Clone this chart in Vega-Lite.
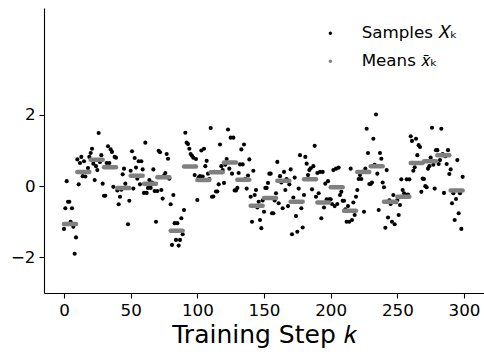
{
  "$schema": "https://vega.github.io/schema/vega-lite/v6.json",
  "autosize": {"type": "none"},
  "width": 440,
  "height": 285,
  "padding": {"left": 44, "top": 8, "right": 0, "bottom": 63},
  "background": "white",
  "config": {
    "view": {"stroke": null},
    "font": "DejaVu Sans",
    "axis": {
      "grid": false,
      "domainColor": "black",
      "domainWidth": 1.1,
      "tickColor": "black",
      "tickWidth": 1.1,
      "tickSize": 5,
      "labelColor": "black",
      "labelFont": "DejaVu Sans",
      "labelFontSize": 16.7,
      "labelPadding": 4,
      "titleFont": "DejaVu Sans",
      "titleColor": "black",
      "titleFontWeight": "normal"
    }
  },
  "datasets": {
    "samples": [
      {"k":0,"x":-1.2},{"k":1,"x":-0.62},{"k":2,"x":0.14},{"k":3,"x":-0.44},{"k":4,"x":-0.44},{"k":5,"x":-1.0},{"k":6,"x":-0.62},{"k":7,"x":-1.14},{"k":8,"x":-1.9},{"k":9,"x":-1.44},
      {"k":10,"x":0.75},{"k":11,"x":0.05},{"k":12,"x":0.65},{"k":13,"x":0.82},{"k":14,"x":0.28},{"k":15,"x":0.7},{"k":16,"x":0.27},{"k":17,"x":0.4},{"k":18,"x":0.51},{"k":19,"x":0.82},
      {"k":20,"x":0.93},{"k":21,"x":1.05},{"k":22,"x":0.63},{"k":23,"x":0.17},{"k":24,"x":0.56},{"k":25,"x":0.45},{"k":26,"x":1.49},{"k":27,"x":0.68},{"k":28,"x":0.87},{"k":29,"x":0.07},
      {"k":30,"x":-0.27},{"k":31,"x":-0.27},{"k":32,"x":0.65},{"k":33,"x":1.12},{"k":34,"x":0.65},{"k":35,"x":1.03},{"k":36,"x":0.96},{"k":37,"x":-0.02},{"k":38,"x":0.82},{"k":39,"x":0.8},
      {"k":40,"x":-0.12},{"k":41,"x":-0.51},{"k":42,"x":-0.3},{"k":43,"x":-0.1},{"k":44,"x":0.33},{"k":45,"x":0.49},{"k":46,"x":0.07},{"k":47,"x":-0.05},{"k":48,"x":-1.07},{"k":49,"x":-0.41},
      {"k":50,"x":0.43},{"k":51,"x":0.98},{"k":52,"x":-0.07},{"k":53,"x":0.79},{"k":54,"x":0.52},{"k":55,"x":0.21},{"k":56,"x":0.7},{"k":57,"x":0.05},{"k":58,"x":0.7},{"k":59,"x":0.47},
      {"k":60,"x":-0.19},{"k":61,"x":1.22},{"k":62,"x":-0.19},{"k":63,"x":-0.05},{"k":64,"x":0.17},{"k":65,"x":-0.05},{"k":66,"x":0.1},{"k":67,"x":0.47},{"k":68,"x":-0.14},{"k":69,"x":-1.0},
      {"k":70,"x":-0.14},{"k":71,"x":0.99},{"k":72,"x":0.95},{"k":73,"x":-0.11},{"k":74,"x":-0.35},{"k":75,"x":0.3},{"k":76,"x":0.37},{"k":77,"x":0.9},{"k":78,"x":0.77},{"k":79,"x":0.21},
      {"k":80,"x":-0.51},{"k":81,"x":-1.65},{"k":82,"x":-0.25},{"k":83,"x":-1.04},{"k":84,"x":-1.51},{"k":85,"x":-1.04},{"k":86,"x":-1.67},{"k":87,"x":-1.51},{"k":88,"x":-0.9},{"k":89,"x":-1.35},
      {"k":90,"x":-0.67},{"k":91,"x":1.5},{"k":92,"x":1.22},{"k":93,"x":1.18},{"k":94,"x":1.05},{"k":95,"x":0.9},{"k":96,"x":0.85},{"k":97,"x":0.8},{"k":98,"x":0.31},{"k":99,"x":0.76},
      {"k":100,"x":-0.39},{"k":101,"x":0.25},{"k":102,"x":0.28},{"k":103,"x":1.0},{"k":104,"x":0.27},{"k":105,"x":1.05},{"k":106,"x":0.56},{"k":107,"x":0.71},{"k":108,"x":0.35},{"k":109,"x":0.2},
      {"k":110,"x":1.63},{"k":111,"x":-0.3},{"k":112,"x":-0.29},{"k":113,"x":0.4},{"k":114,"x":-0.15},{"k":115,"x":-0.15},{"k":116,"x":0.05},{"k":117,"x":1.17},{"k":118,"x":0.56},{"k":119,"x":0.45},
      {"k":120,"x":0.09},{"k":121,"x":0.6},{"k":122,"x":0.76},{"k":123,"x":1.59},{"k":124,"x":0.49},{"k":125,"x":1.36},{"k":126,"x":0.35},{"k":127,"x":1.36},{"k":128,"x":-0.12},{"k":129,"x":-0.12},
      {"k":130,"x":-0.05},{"k":131,"x":0.37},{"k":132,"x":0.61},{"k":133,"x":1.03},{"k":134,"x":0.61},{"k":135,"x":1.17},{"k":136,"x":0.2},{"k":137,"x":-0.07},{"k":138,"x":0.3},{"k":139,"x":0.75},
      {"k":140,"x":-0.3},{"k":141,"x":-1.0},{"k":142,"x":0.43},{"k":143,"x":-0.25},{"k":144,"x":-0.11},{"k":145,"x":-0.6},{"k":146,"x":-0.44},{"k":147,"x":-0.95},{"k":148,"x":-1.18},{"k":149,"x":-0.4},
      {"k":150,"x":-0.72},{"k":151,"x":-0.05},{"k":152,"x":-0.05},{"k":153,"x":0.09},{"k":154,"x":0.35},{"k":155,"x":0.35},{"k":156,"x":-0.76},{"k":157,"x":-0.76},{"k":158,"x":-0.4},{"k":159,"x":-0.2},
      {"k":160,"x":0.68},{"k":161,"x":-0.48},{"k":162,"x":0.28},{"k":163,"x":0.1},{"k":164,"x":-0.62},{"k":165,"x":0.4},{"k":166,"x":-0.11},{"k":167,"x":0.2},{"k":168,"x":-0.56},{"k":169,"x":0.05},
      {"k":170,"x":0.47},{"k":171,"x":-1.35},{"k":172,"x":-0.32},{"k":173,"x":0.24},{"k":174,"x":-0.84},{"k":175,"x":-1.28},{"k":176,"x":-0.07},{"k":177,"x":0.87},{"k":178,"x":-0.62},{"k":179,"x":-1.16},
      {"k":180,"x":-0.25},{"k":181,"x":0.82},{"k":182,"x":0.63},{"k":183,"x":0.31},{"k":184,"x":0.45},{"k":185,"x":0.5},{"k":186,"x":-0.09},{"k":187,"x":0.56},{"k":188,"x":1.13},{"k":189,"x":-0.3},
      {"k":190,"x":0.37},{"k":191,"x":-0.2},{"k":192,"x":0.4},{"k":193,"x":-0.9},{"k":194,"x":0.4},{"k":195,"x":-0.6},{"k":196,"x":0.07},{"k":197,"x":-0.37},{"k":198,"x":0.14},{"k":199,"x":-0.37},
      {"k":200,"x":-0.37},{"k":201,"x":-0.5},{"k":202,"x":0.45},{"k":203,"x":-0.56},{"k":204,"x":0.49},{"k":205,"x":-0.5},{"k":206,"x":0.52},{"k":207,"x":-0.25},{"k":208,"x":-0.16},{"k":209,"x":-0.41},
      {"k":210,"x":-0.41},{"k":211,"x":-0.65},{"k":212,"x":-1.0},{"k":213,"x":-0.56},{"k":214,"x":-1.0},{"k":215,"x":0.49},{"k":216,"x":-0.95},{"k":217,"x":-0.46},{"k":218,"x":-0.81},{"k":219,"x":-0.3},
      {"k":220,"x":-0.11},{"k":221,"x":0.2},{"k":222,"x":0.31},{"k":223,"x":0.2},{"k":224,"x":0.4},{"k":225,"x":-0.72},{"k":226,"x":0.49},{"k":227,"x":1.61},{"k":228,"x":0.93},{"k":229,"x":0.06},
      {"k":230,"x":0.06},{"k":231,"x":0.1},{"k":232,"x":1.33},{"k":233,"x":0.6},{"k":234,"x":2.01},{"k":235,"x":0.35},{"k":236,"x":-0.67},{"k":237,"x":0.93},{"k":238,"x":0.77},{"k":239,"x":0.1},
      {"k":240,"x":-0.03},{"k":241,"x":-1.17},{"k":242,"x":0.45},{"k":243,"x":-0.88},{"k":244,"x":-0.4},{"k":245,"x":-0.5},{"k":246,"x":-1.0},{"k":247,"x":-0.25},{"k":248,"x":-1.07},{"k":249,"x":-0.45},
      {"k":250,"x":-0.39},{"k":251,"x":-0.81},{"k":252,"x":-0.53},{"k":253,"x":0.19},{"k":254,"x":-0.11},{"k":255,"x":-0.2},{"k":256,"x":-0.24},{"k":257,"x":0.19},{"k":258,"x":-0.24},{"k":259,"x":0.19},
      {"k":260,"x":1.4},{"k":261,"x":1.27},{"k":262,"x":0.43},{"k":263,"x":0.53},{"k":264,"x":1.33},{"k":265,"x":0.87},{"k":266,"x":1.15},{"k":267,"x":1.1},{"k":268,"x":-0.16},{"k":269,"x":0.21},
      {"k":270,"x":0.2},{"k":271,"x":0.0},{"k":272,"x":-0.03},{"k":273,"x":0.49},{"k":274,"x":0.56},{"k":275,"x":0.8},{"k":276,"x":1.64},{"k":277,"x":0.6},{"k":278,"x":-0.07},{"k":279,"x":1.01},
      {"k":280,"x":1.01},{"k":281,"x":0.62},{"k":282,"x":0.73},{"k":283,"x":1.61},{"k":284,"x":0.9},{"k":285,"x":-0.19},{"k":286,"x":0.84},{"k":287,"x":0.62},{"k":288,"x":1.01},{"k":289,"x":0.34},
      {"k":290,"x":0.47},{"k":291,"x":-0.48},{"k":292,"x":-0.2},{"k":293,"x":-0.95},{"k":294,"x":-0.36},{"k":295,"x":0.73},{"k":296,"x":-0.76},{"k":297,"x":-0.2},{"k":298,"x":-1.2},{"k":299,"x":0.26}
    ],
    "means": [
      {"start":0,"end":9,"mean":-1.06},{"start":10,"end":19,"mean":0.4},{"start":20,"end":29,"mean":0.74},{"start":30,"end":39,"mean":0.53},{"start":40,"end":49,"mean":-0.05},
      {"start":50,"end":59,"mean":0.29},{"start":60,"end":69,"mean":0.07},{"start":70,"end":79,"mean":0.25},{"start":80,"end":89,"mean":-1.25},{"start":90,"end":99,"mean":0.55},
      {"start":100,"end":109,"mean":0.17},{"start":110,"end":119,"mean":0.39},{"start":120,"end":129,"mean":0.66},{"start":130,"end":139,"mean":0.18},{"start":140,"end":149,"mean":-0.55},
      {"start":150,"end":159,"mean":-0.33},{"start":160,"end":169,"mean":0.15},{"start":170,"end":179,"mean":-0.44},{"start":180,"end":189,"mean":0.19},{"start":190,"end":199,"mean":-0.46},
      {"start":200,"end":209,"mean":-0.03},{"start":210,"end":219,"mean":-0.69},{"start":220,"end":229,"mean":0.4},{"start":230,"end":239,"mean":0.56},{"start":240,"end":249,"mean":-0.44},
      {"start":250,"end":259,"mean":-0.3},{"start":260,"end":269,"mean":0.65},{"start":270,"end":279,"mean":0.7},{"start":280,"end":289,"mean":0.87},{"start":290,"end":299,"mean":-0.12}
    ]
  },
  "layer": [
    {
      "data": {"name": "samples"},
      "mark": {"type": "point", "filled": true, "size": 17, "opacity": 1, "strokeWidth": 0},
      "encoding": {
        "x": {
          "field": "k", "type": "quantitative",
          "scale": {"domain": [-15, 315], "nice": false, "zero": false},
          "axis": {"values": [0, 50, 100, 150, 200, 250, 300], "title": "Training Step 𝑘", "titleFontSize": 25, "titlePadding": 4}
        },
        "y": {
          "field": "x", "type": "quantitative",
          "scale": {"domain": [-3, 5], "nice": false, "zero": false},
          "axis": {"values": [-2, 0, 2], "title": null, "labelExpr": "replace(datum.label, '-', '−')"}
        },
        "color": {
          "datum": "Samples 𝑋ₖ",
          "scale": {"domain": ["Samples 𝑋ₖ", "Means 𝑥̄ₖ"], "range": ["black", "#808080"]},
          "legend": {
            "title": null,
            "orient": "none",
            "legendX": 278,
            "legendY": 17,
            "symbolType": "circle",
            "symbolSize": 12,
            "symbolStrokeWidth": 0,
            "labelFont": "DejaVu Sans",
            "labelFontSize": 16.7,
            "labelColor": "black",
            "labelOffset": 23,
            "rowPadding": 10,
            "padding": 0
          }
        }
      }
    },
    {
      "data": {"name": "means"},
      "mark": {"type": "rule", "strokeWidth": 4.5, "strokeCap": "round", "color": "#808080"},
      "encoding": {
        "x": {"field": "start", "type": "quantitative"},
        "x2": {"field": "end"},
        "y": {"field": "mean", "type": "quantitative"}
      }
    }
  ]
}
